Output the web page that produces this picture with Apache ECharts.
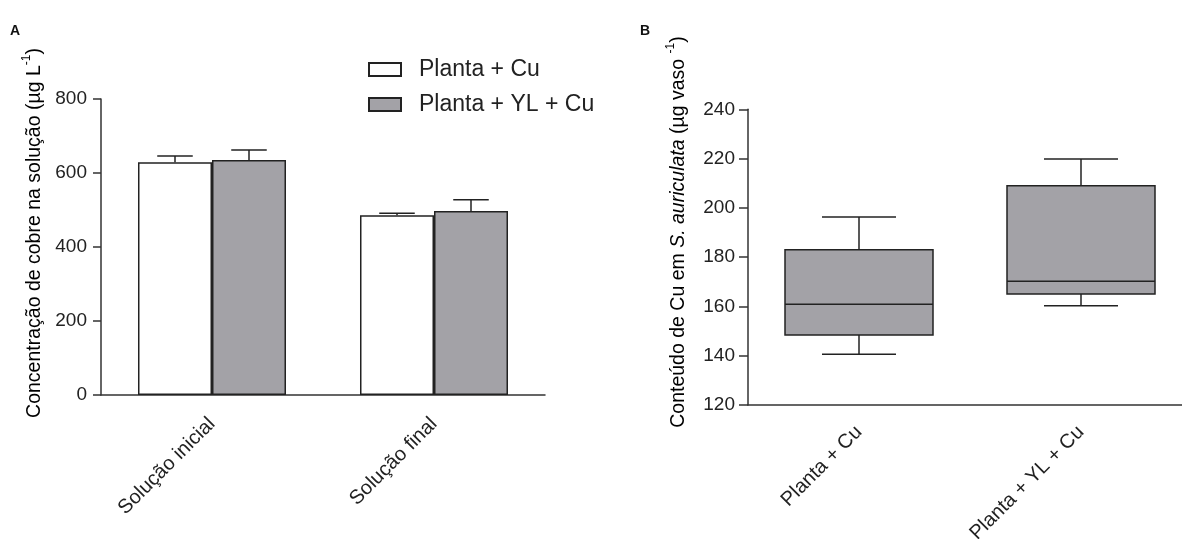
<!DOCTYPE html>
<html>
<head>
<meta charset="utf-8">
<script src="https://cdn.jsdelivr.net/npm/echarts@6/dist/echarts.min.js"></script>
<style>
  html, body { margin: 0; padding: 0; background: #fff; }
  #chart { width: 1182px; height: 539px; }
</style>
</head>
<body>
<div id="chart"></div>
<script>
// panel A: copper in solution (mean + SEM)
const barCategories = ['Solução inicial', 'Solução final']
const plantaCu = [629, 486]
const plantaCuErr = [17, 5]
const plantaYlCu = [635, 497]
const plantaYlCuErr = [27, 31]

// panel B: Cu content in S. auriculata (box and whiskers)
const boxCategories = ['Planta + Cu', 'Planta + YL + Cu']
const boxMin = [140.6, 160.3]
const boxQ1 = [148.4, 165.0]
const boxMedian = [160.9, 170.2]
const boxQ3 = [183.0, 209.0]
const boxMax = [196.3, 219.8]

const yTicksA = [0, 800, 200]
const yTicksB = [120, 240, 20]

const ink = '#222'
const grey = '#a3a2a7'
const font = 'Liberation Sans, Arial, sans-serif'

const chart = echarts.init(document.getElementById('chart'))

function errorBars(offset) {
  return function (params, api) {
    const band = api.size([1, 0])[0]
    const base = api.coord([api.value(0), api.value(1)])
    const top = api.coord([api.value(0), api.value(1) + api.value(2)])
    const cx = base[0] + offset * band
    const half = band * 0.08
    const style = { stroke: ink, lineWidth: 1.5 }
    return {
      type: 'group',
      children: [
        { type: 'line', shape: { x1: cx, y1: base[1], x2: cx, y2: top[1] }, style: style },
        { type: 'line', shape: { x1: cx - half, y1: top[1], x2: cx + half, y2: top[1] }, style: style }
      ]
    }
  }
}

function boxItem(params, api) {
  const band = api.size([1, 0])[0]
  const bw = band * 2 / 3
  const cap = bw / 4
  const c = api.value(0)
  const pMin = api.coord([c, api.value(1)])
  const pQ1 = api.coord([c, api.value(2)])
  const pMed = api.coord([c, api.value(3)])
  const pQ3 = api.coord([c, api.value(4)])
  const pMax = api.coord([c, api.value(5)])
  const cx = pMed[0]
  const line = { stroke: ink, lineWidth: 1.5 }
  return {
    type: 'group',
    children: [
      { type: 'line', shape: { x1: cx, y1: pQ3[1], x2: cx, y2: pMax[1] }, style: line },
      { type: 'line', shape: { x1: cx - cap, y1: pMax[1], x2: cx + cap, y2: pMax[1] }, style: line },
      { type: 'line', shape: { x1: cx, y1: pQ1[1], x2: cx, y2: pMin[1] }, style: line },
      { type: 'line', shape: { x1: cx - cap, y1: pMin[1], x2: cx + cap, y2: pMin[1] }, style: line },
      { type: 'rect', shape: { x: cx - bw / 2, y: pQ3[1], width: bw, height: pQ1[1] - pQ3[1] }, style: { fill: grey, stroke: ink, lineWidth: 1.5 } },
      { type: 'line', shape: { x1: cx - bw / 2, y1: pMed[1], x2: cx + bw / 2, y2: pMed[1] }, style: line }
    ]
  }
}

const axisLine = { lineStyle: { color: '#333', width: 1.5 } }
const tickLabel = { color: ink, fontSize: 19, fontFamily: font }

const option = {
  animation: false,
  grid: [
    { left: 101, top: 99, width: 444, height: 296, outerBoundsMode: 'none', containLabel: false },
    { left: 748, top: 109.3, width: 444, height: 295.7, outerBoundsMode: 'none', containLabel: false }
  ],
  legend: {
    left: 363, top: 53, orient: 'vertical',
    itemWidth: 32, itemHeight: 13, itemGap: 12,
    icon: 'rect',
    data: ['Planta + Cu', 'Planta + YL + Cu'],
    textStyle: { color: ink, fontSize: 23, fontFamily: font, padding: [0, 0, 0, 13] }
  },
  xAxis: [
    {
      gridIndex: 0, type: 'category', data: barCategories,
      axisLine: axisLine,
      axisTick: { alignWithLabel: true, length: 8, lineStyle: { color: '#333', width: 1.5 } },
      axisLabel: Object.assign({}, tickLabel, { rotate: 45, margin: 26, fontSize: 20 })
    },
    {
      gridIndex: 1, type: 'category', data: boxCategories,
      axisLine: axisLine,
      axisTick: { alignWithLabel: true, length: 8, lineStyle: { color: '#333', width: 1.5 } },
      axisLabel: Object.assign({}, tickLabel, { rotate: 45, margin: 24, fontSize: 20 })
    }
  ],
  yAxis: [
    {
      gridIndex: 0, type: 'value', min: yTicksA[0], max: yTicksA[1], interval: yTicksA[2],
      axisLine: Object.assign({ show: true }, axisLine),
      axisTick: { show: true, length: 8, lineStyle: { color: '#333', width: 1.5 } },
      splitLine: { show: false },
      axisLabel: Object.assign({ margin: 14 }, tickLabel)
    },
    {
      gridIndex: 1, type: 'value', min: yTicksB[0], max: yTicksB[1], interval: yTicksB[2],
      axisLine: Object.assign({ show: true }, axisLine),
      axisTick: { show: true, length: 9, lineStyle: { color: '#333', width: 1.5 } },
      splitLine: { show: false },
      axisLabel: Object.assign({ margin: 13 }, tickLabel)
    }
  ],
  series: [
    {
      name: 'Planta + Cu', type: 'bar', xAxisIndex: 0, yAxisIndex: 0,
      data: plantaCu, barGap: '0%', barCategoryGap: '33.33%',
      itemStyle: { color: '#fff', borderColor: ink, borderWidth: 1.5 }
    },
    {
      name: 'Planta + YL + Cu', type: 'bar', xAxisIndex: 0, yAxisIndex: 0,
      data: plantaYlCu, barGap: '0%', barCategoryGap: '33.33%',
      itemStyle: { color: grey, borderColor: ink, borderWidth: 1.5 }
    },
    {
      type: 'custom', xAxisIndex: 0, yAxisIndex: 0, z: 3,
      renderItem: errorBars(-1 / 6),
      encode: { x: 0, y: 1 },
      data: plantaCu.map((v, i) => [i, v, plantaCuErr[i]])
    },
    {
      type: 'custom', xAxisIndex: 0, yAxisIndex: 0, z: 3,
      renderItem: errorBars(1 / 6),
      encode: { x: 0, y: 1 },
      data: plantaYlCu.map((v, i) => [i, v, plantaYlCuErr[i]])
    },
    {
      type: 'custom', xAxisIndex: 1, yAxisIndex: 1,
      renderItem: boxItem,
      encode: { x: 0, y: [1, 2, 3, 4, 5] },
      data: boxCategories.map((c, i) => [i, boxMin[i], boxQ1[i], boxMedian[i], boxQ3[i], boxMax[i]])
    }
  ],
  graphic: [
    { type: 'text', left: 10, top: 24, style: { text: 'A', font: 'bold 14px ' + font, fill: '#111' } },
    { type: 'text', left: 640, top: 24, style: { text: 'B', font: 'bold 14px ' + font, fill: '#111' } },
    {
      type: 'text', x: 33, y: 233, rotation: Math.PI / 2,
      style: {
        text: '{t|Concentração de cobre na solução (µg L}{s|-1}{t|)}',
        align: 'center', verticalAlign: 'middle',
        rich: {
          t: { fontSize: 19.5, fontFamily: font, color: ink, lineHeight: 24, verticalAlign: 'bottom' },
          s: { fontSize: 12, fontFamily: font, color: ink, lineHeight: 24, verticalAlign: 'top' }
        }
      }
    },
    {
      type: 'text', x: 677, y: 232, rotation: Math.PI / 2,
      style: {
        text: '{t|Conteúdo de Cu em }{i|S. auriculata}{t| (µg vaso }{s|-1}{t|)}',
        align: 'center', verticalAlign: 'middle',
        rich: {
          t: { fontSize: 19.5, fontFamily: font, color: ink, lineHeight: 24, verticalAlign: 'bottom' },
          i: { fontSize: 19.5, fontFamily: font, fontStyle: 'italic', color: ink, lineHeight: 24, verticalAlign: 'bottom' },
          s: { fontSize: 12, fontFamily: font, color: ink, lineHeight: 24, verticalAlign: 'top' }
        }
      }
    }
  ]
}

chart.setOption(option)
</script>
</body>
</html>
